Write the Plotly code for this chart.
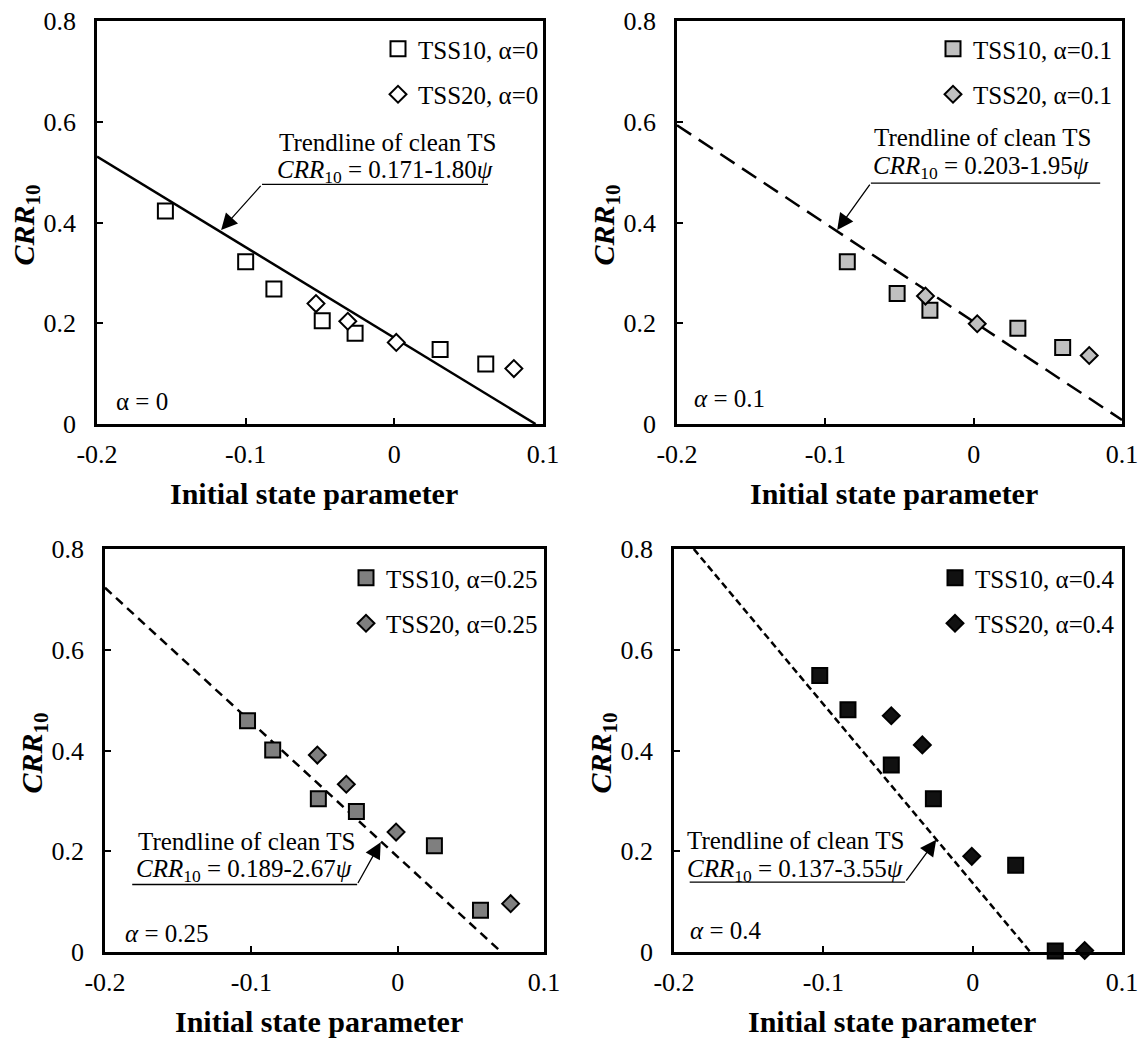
import plotly.graph_objects as go

W, H = 1140, 1038
FONT = "Liberation Serif, Times New Roman, serif"

# ---------------- data ----------------
alpha_labels = ["0", "0.1", "0.25", "0.4"]

p1_tss10_x = [-0.154, -0.100, -0.081, -0.0485, -0.0264, 0.0308, 0.0615]
p1_tss10_y = [0.423, 0.322, 0.268, 0.205, 0.180, 0.148, 0.119]
p1_tss20_x = [-0.0527, -0.0313, 0.0013, 0.0804]
p1_tss20_y = [0.239, 0.204, 0.162, 0.110]

p2_tss10_x = [-0.0852, -0.0516, -0.0295, 0.0298, 0.0600]
p2_tss10_y = [0.322, 0.259, 0.226, 0.190, 0.152]
p2_tss20_x = [-0.0325, 0.0024, 0.0779]
p2_tss20_y = [0.254, 0.199, 0.136]

p3_tss10_x = [-0.1026, -0.0854, -0.0542, -0.0282, 0.0251, 0.0566]
p3_tss10_y = [0.459, 0.401, 0.304, 0.279, 0.211, 0.083]
p3_tss20_x = [-0.0549, -0.0351, -0.0011, 0.0772]
p3_tss20_y = [0.391, 0.333, 0.238, 0.096]

p4_tss10_x = [-0.1024, -0.0835, -0.0545, -0.0263, 0.0288, 0.0553]
p4_tss10_y = [0.549, 0.481, 0.371, 0.304, 0.172, 0.002]
p4_tss20_x = [-0.0545, -0.0337, -0.0006, 0.0750]
p4_tss20_y = [0.469, 0.411, 0.190, 0.003]

trend_intercepts = [0.171, 0.203, 0.189, 0.137]
trend_slopes = [1.80, 1.95, 2.67, 3.55]
trend_labels = ["0.171-1.80", "0.203-1.95", "0.189-2.67", "0.137-3.55"]

x_tickvals = [-0.2, -0.1, 0, 0.1]
x_ticktext = ["-0.2", "-0.1", "0", "0.1"]
y_tickvals = [0, 0.2, 0.4, 0.6, 0.8]
y_ticktext = ["0", "0.2", "0.4", "0.6", "0.8"]
X_RANGE = [-0.2, 0.1]
Y_RANGE = [0, 0.8]

series = [
    (p1_tss10_x, p1_tss10_y, p1_tss20_x, p1_tss20_y),
    (p2_tss10_x, p2_tss10_y, p2_tss20_x, p2_tss20_y),
    (p3_tss10_x, p3_tss10_y, p3_tss20_x, p3_tss20_y),
    (p4_tss10_x, p4_tss10_y, p4_tss20_x, p4_tss20_y),
]

# ---------------- styles / layout geometry ----------------
fills = ["white", "#c0c0c0", "#7f7f7f", "#111111"]
dashes = ["solid", "17px,9px", "9px,6px", "7px,4px"]
# plot boxes in pixels: left, right, top, bottom
boxes = [(97, 543, 21, 424), (677, 1122, 21, 424), (105, 544, 549, 952), (674, 1122, 549, 952)]
legend_sym_x = [398, 953, 366, 955]
legend_top_y = [26, 26, 555, 555]

# annotation geometry (data coordinates of each panel)
ann_geo = [
    dict(l1=(-0.079, 0.559), l2=(-0.0804, 0.502), ul=(-0.089, 0.063, 0.4756), tip=(-0.1165, 0.385)),
    dict(l1=(-0.0688, 0.569), l2=(-0.0693, 0.510), ul=(-0.0693, 0.0853, 0.478), tip=(-0.092, 0.385)),
    dict(l1=(-0.179, 0.219), l2=(-0.180, 0.162), ul=(-0.1814, -0.0277, 0.134), tip=(-0.0116, 0.218)),
    dict(l1=(-0.1924, 0.221), l2=(-0.1924, 0.162), ul=(-0.1895, -0.0452, 0.1386), tip=(-0.0244, 0.223)),
]
tail_at_right = [False, False, True, True]
corner_pos = [(-0.1885, 0.045), (-0.190, 0.051), (-0.188, 0.036), (-0.1907, 0.043)]

fig = go.Figure()
annotations = []
shapes = []
layout = {}

for i in range(4):
    sfx = "" if i == 0 else str(i + 1)
    xa, ya = "x" + sfx, "y" + sfx
    leg = "legend" + sfx
    tx10, ty10, tx20, ty20 = series[i]
    a = alpha_labels[i]

    # trendline of clean TS, drawn from its equation inside the axis box
    b, m = trend_intercepts[i], trend_slopes[i]
    x0 = max(X_RANGE[0], (b - Y_RANGE[1]) / m)
    x1 = min(X_RANGE[1], b / m)
    fig.add_trace(go.Scatter(
        x=[x0, x1], y=[b - m * x0, b - m * x1], mode="lines",
        line=dict(color="black", width=2.5, dash=dashes[i]),
        xaxis=xa, yaxis=ya, showlegend=False, hoverinfo="skip"))

    fig.add_trace(go.Scatter(
        x=tx10, y=ty10, mode="markers", name=f"TSS10, α={a}",
        marker=dict(symbol="square", size=15, color=fills[i],
                    line=dict(color="black", width=2)),
        xaxis=xa, yaxis=ya, legend=leg, legendgroup=f"a{i}", cliponaxis=False))
    fig.add_trace(go.Scatter(
        x=tx20, y=ty20, mode="markers", name=f"TSS20, α={a}",
        marker=dict(symbol="diamond", size=13, color=fills[i],
                    line=dict(color="black", width=2)),
        xaxis=xa, yaxis=ya, legend=leg, legendgroup=f"b{i}", cliponaxis=False))

    l, r, t, btm = boxes[i]
    axis_common = dict(showline=True, mirror=True, linecolor="black", linewidth=2.5,
                       showgrid=False, zeroline=False, ticks="inside", ticklen=6,
                       tickwidth=1.5, tickcolor="black", automargin=False,
                       tickfont=dict(family=FONT, size=26, color="black"))
    layout["xaxis" + sfx] = dict(domain=[l / W, r / W], anchor=ya, range=X_RANGE,
                                 tickvals=x_tickvals, ticktext=x_ticktext,
                                 ticklabelstandoff=5, **axis_common)
    layout["yaxis" + sfx] = dict(domain=[1 - btm / H, 1 - t / H], anchor=xa, range=Y_RANGE,
                                 tickvals=y_tickvals, ticktext=y_ticktext,
                                 ticklabelstandoff=13, **axis_common)
    layout[leg] = dict(x=(legend_sym_x[i] - 20) / W, y=1 - legend_top_y[i] / H,
                       xanchor="left", yanchor="top", bgcolor="rgba(0,0,0,0)",
                       borderwidth=0, tracegroupgap=10,
                       font=dict(family=FONT, size=25, color="black"))

    # axis titles
    annotations.append(dict(xref="paper", yref="paper", x=((l + r) / 2 - 6) / W,
                            y=1 - (btm + 69) / H, text="<b>Initial state parameter</b>",
                            showarrow=False, xanchor="center", yanchor="middle",
                            font=dict(family=FONT, size=30, color="black")))
    annotations.append(dict(xref="paper", yref="paper", x=(l - 72) / W,
                            y=1 - ((t + btm) / 2 + 3) / H,
                            text="<b><i>CRR</i><sub>10</sub></b>", textangle=-90,
                            showarrow=False, xanchor="center", yanchor="middle",
                            font=dict(family=FONT, size=30, color="black")))

    g = ann_geo[i]
    annotations.append(dict(xref=xa, yref=ya, x=g["l1"][0], y=g["l1"][1],
                            text="Trendline of clean TS", showarrow=False,
                            xanchor="left", yanchor="middle",
                            font=dict(family=FONT, size=25, color="black")))
    annotations.append(dict(xref=xa, yref=ya, x=g["l2"][0], y=g["l2"][1],
                            text=f"<i>CRR</i><sub>10</sub> = {trend_labels[i]}<i>ψ</i>",
                            showarrow=False, xanchor="left", yanchor="middle",
                            font=dict(family=FONT, size=25, color="black")))
    ux0, ux1, uy = g["ul"]
    shapes.append(dict(type="line", xref=xa, yref=ya, x0=ux0, x1=ux1, y0=uy, y1=uy,
                       line=dict(color="black", width=1.3)))
    tail_x = ux1 if tail_at_right[i] else ux0
    annotations.append(dict(xref=xa, yref=ya, axref=xa, ayref=ya,
                            x=g["tip"][0], y=g["tip"][1], ax=tail_x, ay=uy,
                            text="", showarrow=True, arrowhead=2, arrowsize=2.5,
                            arrowwidth=1.3, arrowcolor="black", standoff=0))
    cx, cy = corner_pos[i]
    atext = "α = 0" if i == 0 else f"<i>α</i> = {a}"
    annotations.append(dict(xref=xa, yref=ya, x=cx, y=cy, text=atext, showarrow=False,
                            xanchor="left", yanchor="middle",
                            font=dict(family=FONT, size=25, color="black")))

fig.update_layout(
    width=W, height=H, margin=dict(l=0, r=0, t=0, b=0, autoexpand=False),
    paper_bgcolor="white", plot_bgcolor="white",
    font=dict(family=FONT, size=24, color="black"),
    annotations=annotations, shapes=shapes, **layout)

fig.write_html("out.html")
